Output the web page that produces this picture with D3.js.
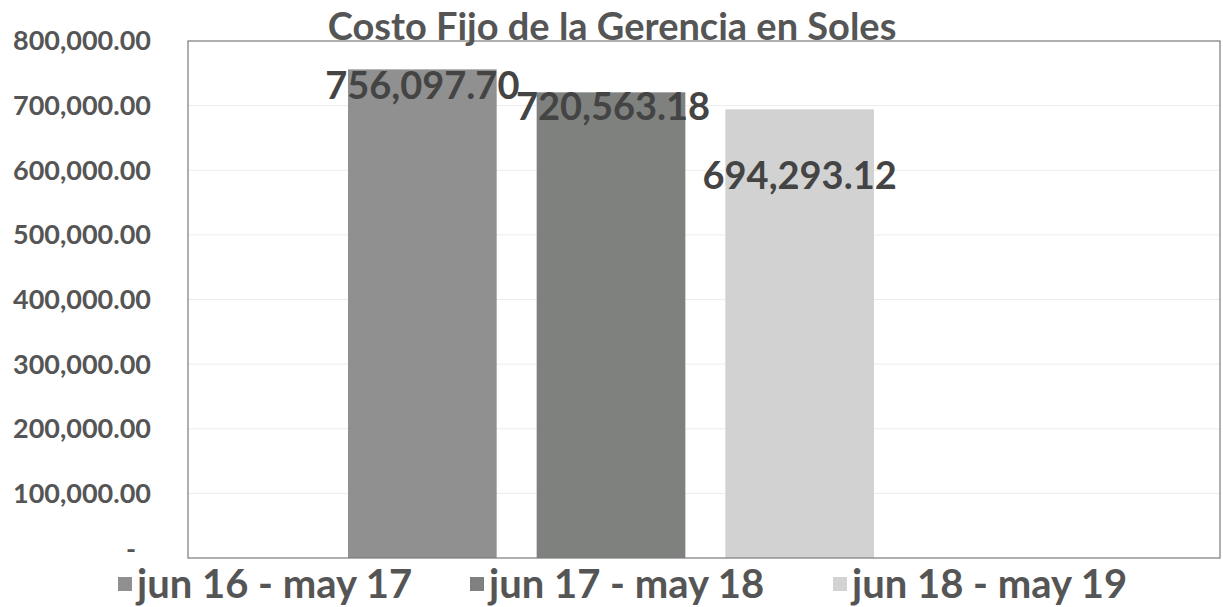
<html lang="es">
<head>
<meta charset="UTF-8">
<title>Costo Fijo de la Gerencia en Soles</title>
<script src="https://d3js.org/d3.v7.min.js"></script>
<style>
  body { margin: 0; background: #fff; }
  text { font-family: Lato, "Open Sans", sans-serif; }
</style>
</head>
<body>
<div id="chart"></div>
<script>
// data
const series = ["jun 16 - may 17", "jun 17 - may 18", "jun 18 - may 19"];
const values = [756097.70, 720563.18, 694293.12];
const yTicks = [0, 100000, 200000, 300000, 400000, 500000, 600000, 700000, 800000];
const colors = ["#8f908f", "#7f817f", "#d2d2d2"];
// label offsets from the bar (labels were moved by hand in the original)
const labelDy = [16, 14, 66];
const labelDx = [0, 2, 0];

const W = 1223, H = 607;
const plot = { left: 188, right: 1220, top: 41, bottom: 558 };

const svg = d3.select("#chart").append("svg")
  .attr("width", W).attr("height", H);

const y = d3.scaleLinear().domain([0, 800000]).range([plot.bottom, plot.top]);
const x = d3.scaleBand().domain(series).range([348, 874]).paddingInner(0.212).paddingOuter(0);

// gridlines
svg.append("g").selectAll("line").data(yTicks.slice(1, -1)).enter().append("line")
  .attr("x1", plot.left).attr("x2", plot.right)
  .attr("y1", d => y(d)).attr("y2", d => y(d))
  .attr("stroke", "#ececec").attr("stroke-width", 1);

// y axis labels
const fmt = d3.format(",.2f");
svg.append("g").selectAll("text").data(yTicks).enter().append("text")
  .attr("x", d => d === 0 ? 136 : 151)
  .attr("y", d => d === 0 ? y(d) - 8 : y(d))
  .attr("dy", "0.35em")
  .attr("text-anchor", "end")
  .attr("fill", "#555")
  .attr("font-size", 27)
  .attr("font-weight", "bold")
  .text(d => d === 0 ? "-" : fmt(d));

// bars
svg.append("g").selectAll("rect").data(values).enter().append("rect")
  .attr("x", (d, i) => x(series[i]))
  .attr("y", d => y(d))
  .attr("width", x.bandwidth())
  .attr("height", d => y(0) - y(d))
  .attr("fill", (d, i) => colors[i]);

// plot border
svg.append("rect")
  .attr("x", plot.left).attr("y", plot.top)
  .attr("width", plot.right - plot.left).attr("height", plot.bottom - plot.top)
  .attr("fill", "none").attr("stroke", "#7a7a7a").attr("stroke-width", 1.2);

// data labels
svg.append("g").selectAll("text").data(values).enter().append("text")
  .attr("x", (d, i) => x(series[i]) + x.bandwidth() / 2 + labelDx[i])
  .attr("y", (d, i) => y(d) + labelDy[i])
  .attr("dy", "0.35em")
  .attr("text-anchor", "middle")
  .attr("fill", "#444")
  .attr("font-size", 38)
  .attr("font-weight", "bold")
  .text(d => fmt(d));

// title
svg.append("text")
  .attr("x", 612).attr("y", 27)
  .attr("dy", "0.35em")
  .attr("text-anchor", "middle")
  .attr("fill", "#555")
  .attr("font-size", 38)
  .attr("font-weight", "bold")
  .text("Costo Fijo de la Gerencia en Soles");

// legend
const legendX = [118, 470, 833];
const lg = svg.append("g").selectAll("g").data(series).enter().append("g")
  .attr("transform", (d, i) => "translate(" + legendX[i] + ",584)");
lg.append("rect")
  .attr("x", 0).attr("y", -7).attr("width", 14).attr("height", 14)
  .attr("fill", (d, i) => colors[i]);
lg.append("text")
  .attr("x", 19).attr("y", 0).attr("dy", "0.35em")
  .attr("fill", "#555")
  .attr("font-size", 40)
  .attr("font-weight", "bold")
  .text(d => d);
</script>
</body>
</html>
